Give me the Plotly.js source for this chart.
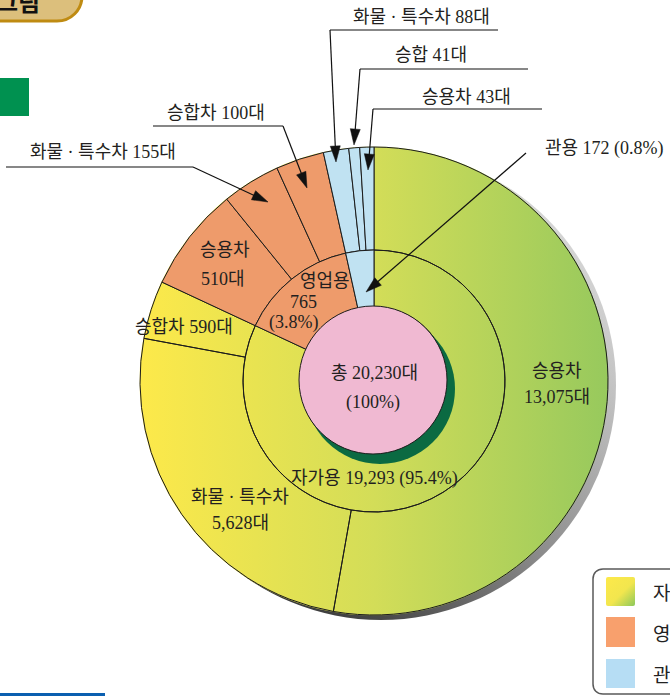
<!DOCTYPE html>
<html><head><meta charset="utf-8">
<script src="https://cdn.plot.ly/plotly-3.0.1.min.js"></script>
<style>html,body{margin:0;padding:0;background:#fff}#chart{width:670px;height:696px}</style>
</head><body><div id="chart"></div>
<script>
// ---------------- data ----------------
const rootLabel = '총';
const totalVehicles = 20230;
const rootPercent = '100%';
const useLabels = ['자가용', '영업용', '관용'];
const useValues = [19293, 765, 172];
const usePercents = ['95.4%', '3.8%', '0.8%'];
const typeParents = ['자가용', '자가용', '자가용', '영업용', '영업용', '영업용', '관용', '관용', '관용'];
const typeLabels = ['승용차', '화물 · 특수차', '승합차', '승용차', '화물 · 특수차', '승합차', '화물 · 특수차', '승합', '승용차'];
const typeValues = [13075, 5628, 590, 510, 155, 100, 88, 41, 43];
// the reference draws its slices schematically (not to scale); angular widths, in degrees
const useDrawnDeg = [295, 52.5, 12.5];
const typeDrawnDeg = [190, 90.5, 14.5, 26, 14.5, 12, 6.3, 2.7, 3.5];
const legendLabels = ['자가용', '영업용', '관용'];

// ---------------- helpers ----------------
const W = 670, H = 696;
const X = x => x / W, Y = y => 1 - y / H;
const P = (x, y) => `${X(x)},${Y(y)}`;
const fmt = v => v.toLocaleString('en-US');
function dom(cx, cy, r) { return { x: [X(cx - r), X(cx + r)], y: [Y(cy + r), Y(cy - r)] }; }
const C = { x: 374, y: 381 };
const R_OUT = 234, R_MID = 131, R_IN = 74;
const parentColor = { '자가용': 'rgba(0,0,0,0)', '영업용': '#ee9b6b', '관용': '#c0e2f2' };
const LINE = '#1c1c1c';
const svgURI = s => 'data:image/svg+xml;charset=utf-8,' + encodeURIComponent(s);

// ---------------- traces ----------------
const traces = [
  { type: 'pie', values: typeDrawnDeg,
    labels: typeLabels.map((l, i) => typeParents[i] + ' ' + l + ' ' + fmt(typeValues[i])),
    sort: false, direction: 'clockwise', rotation: 0, hole: R_MID / R_OUT,
    domain: dom(C.x, C.y, R_OUT), textinfo: 'none', hoverinfo: 'label',
    marker: { colors: typeParents.map(p => parentColor[p]), line: { color: LINE, width: 1 } } },
  { type: 'pie', values: useDrawnDeg,
    labels: useLabels.map((l, i) => l + ' ' + fmt(useValues[i])),
    sort: false, direction: 'clockwise', rotation: 0, hole: R_IN / R_MID,
    domain: dom(C.x, C.y, R_MID), textinfo: 'none', hoverinfo: 'label',
    marker: { colors: useLabels.map(p => parentColor[p]), line: { color: LINE, width: 1 } } },
  { type: 'pie', values: [totalVehicles], labels: ['shadow'], sort: false,
    domain: dom(373 + 7, 380 + 9, R_IN + 1), textinfo: 'none', hoverinfo: 'skip',
    marker: { colors: ['#0b6a42'], line: { width: 0 } } },
  { type: 'pie', values: [totalVehicles], labels: [rootLabel + ' ' + fmt(totalVehicles)], sort: false,
    domain: dom(373, 380, R_IN), textinfo: 'none', hoverinfo: 'label',
    marker: { colors: ['#f0b9d2'], line: { color: LINE, width: 1 } } }
];

// ---------------- decoration images ----------------
const gradCircle = `<svg xmlns="http://www.w3.org/2000/svg" width="100" height="100" viewBox="0 0 100 100"><defs><linearGradient id="g" x1="0" y1="0" x2="1" y2="0"><stop offset="0" stop-color="#fde94a"/><stop offset="0.5" stop-color="#d3dd58"/><stop offset="1" stop-color="#97c95d"/></linearGradient></defs><circle cx="50" cy="50" r="50" fill="url(#g)"/></svg>`;
const shadowCircle = `<svg xmlns="http://www.w3.org/2000/svg" width="100" height="100" viewBox="0 0 100 100"><defs><linearGradient id="s" x1="1" y1="0" x2="0" y2="1"><stop offset="0" stop-color="#ececec"/><stop offset="0.25" stop-color="#c4c4c4"/><stop offset="0.5" stop-color="#8e8e8e"/><stop offset="0.75" stop-color="#484848"/><stop offset="1" stop-color="#1e1e1e"/></linearGradient></defs><circle cx="50" cy="50" r="50" fill="url(#s)"/></svg>`;
const gradSwatch = `<svg xmlns="http://www.w3.org/2000/svg" width="30" height="30" viewBox="0 0 30 30"><defs><linearGradient id="w" x1="0" y1="0" x2="1" y2="1"><stop offset="0" stop-color="#fde94a"/><stop offset="0.55" stop-color="#f2e64e"/><stop offset="1" stop-color="#8cc85c"/></linearGradient></defs><rect x="0" y="0" width="30" height="30" rx="2" fill="url(#w)"/></svg>`;
function img(src, x0, y0, w, h, layer) {
  return { source: svgURI(src), xref: 'paper', yref: 'paper', x: X(x0), y: Y(y0),
    sizex: w / W, sizey: h / H, xanchor: 'left', yanchor: 'top', sizing: 'stretch', layer: layer };
}
const images = [
  img(shadowCircle, C.x + 7 - R_OUT - 1, C.y + 4 - R_OUT - 1, 2 * R_OUT + 2, 2 * R_OUT + 2, 'below'),
  img(gradCircle, C.x - R_OUT - 0.5, C.y - R_OUT - 0.5, 2 * R_OUT + 1, 2 * R_OUT + 1, 'below'),
  img(gradSwatch, 606, 577, 29, 29, 'above')
];

// ---------------- shapes ----------------
const shapes = [];
function rect(x0, y0, x1, y1, fill) {
  shapes.push({ type: 'rect', xref: 'paper', yref: 'paper', x0: X(x0), x1: X(x1), y0: Y(y1), y1: Y(y0),
    fillcolor: fill, line: { width: 0 } });
}
function path(d, fill, lc, lw) {
  shapes.push({ type: 'path', xref: 'paper', yref: 'paper', path: d, fillcolor: fill, line: { color: lc, width: lw } });
}
function seg(x0, y0, x1, y1, w) {
  shapes.push({ type: 'line', xref: 'paper', yref: 'paper', x0: X(x0), y0: Y(y0), x1: X(x1), y1: Y(y1),
    line: { color: '#111', width: w || 1.2 } });
}
function arrow(x0, y0, x1, y1) {
  const len = 16, hw = 5;
  const dx = x1 - x0, dy = y1 - y0, d = Math.hypot(dx, dy), ux = dx / d, uy = dy / d;
  const bx = x1 - ux * len, by = y1 - uy * len, px = -uy, py = ux;
  seg(x0, y0, bx + ux * 2, by + uy * 2);
  path(`M${P(x1, y1)} L${P(bx + px * hw, by + py * hw)} L${P(bx - px * hw, by - py * hw)} Z`, '#111', '#111', 0.5);
}
// top-left header tab (cut off)
path(`M${P(-20, -40)} L${P(82, -40)} L${P(82, -4)} C${P(82, 10)} ${P(71, 21)} ${P(57, 21)} L${P(-20, 21)} Z`, '#dcbf7c', '#bf8b12', 3);
rect(0, 78, 29, 116, '#009150');
rect(0, 693, 105, 697, '#0b5fb0');
// legend box
path(`M${P(603, 569)} L${P(740, 569)} L${P(740, 694)} L${P(603, 694)} C${P(597, 694)} ${P(593, 690)} ${P(593, 684)} L${P(593, 579)} C${P(593, 573)} ${P(597, 569)} ${P(603, 569)} Z`, 'rgba(0,0,0,0)', '#5a5a5a', 1.5);
rect(606, 617, 635, 647, '#f8a06d');
rect(606, 659, 635, 688, '#b6ddf4');
// leader lines
seg(6, 167, 193, 167); arrow(193, 167, 268, 202);     // 영업 화물·특수차
seg(153, 126, 283, 126); arrow(283, 126, 307, 188);   // 영업 승합차
seg(330, 30, 498, 30); arrow(330, 30, 336, 162);      // 관용 화물·특수차
seg(360, 69, 528, 69); arrow(360, 69, 354, 145);      // 관용 승합
seg(373, 109, 542, 109); arrow(373, 109, 368, 170);   // 관용 승용차
arrow(526, 153, 366, 292);                            // 관용 total

// ---------------- annotations ----------------
const FONT = { family: "'Liberation Serif', 'Noto Sans CJK KR', serif", size: 18, color: '#231f20' };
const annotations = [];
function txt(t, x, y, opt) {
  annotations.push(Object.assign({ text: t, x: X(x), y: Y(y), xref: 'paper', yref: 'paper', showarrow: false,
    xanchor: 'center', yanchor: 'middle', font: FONT }, opt || {}));
}
// centre
txt(`${rootLabel} ${fmt(totalVehicles)}대`, 374, 373);
txt(`(${rootPercent})`, 373, 402);
// middle ring
txt(`${useLabels[0]} ${fmt(useValues[0])} (${usePercents[0]})`, 374, 478);
txt(useLabels[1], 325, 281);
txt(fmt(useValues[1]), 303, 302);
txt(`(${usePercents[1]})`, 293, 322);
txt(`${useLabels[2]} ${useValues[2]} (${usePercents[2]})`, 604, 148);
// outer ring
txt(typeLabels[0], 557, 371);
txt(`${fmt(typeValues[0])}대`, 557, 397);
txt(typeLabels[1], 240, 497);
txt(`${fmt(typeValues[1])}대`, 240, 523);
txt(`${typeLabels[2]} ${typeValues[2]}대`, 184, 327);
txt(typeLabels[3], 225, 250);
txt(`${typeValues[3]}대`, 223, 279);
txt(`${typeLabels[4]} ${typeValues[4]}대`, 103, 152);
txt(`${typeLabels[5]} ${typeValues[5]}대`, 216, 113);
txt(`${typeLabels[6]} ${typeValues[6]}대`, 421, 17);
txt(`${typeLabels[7]} ${typeValues[7]}대`, 431, 55);
txt(`${typeLabels[8]} ${typeValues[8]}대`, 466, 97);
// legend texts
const LFONT = { family: "'Noto Sans CJK KR', sans-serif", size: 19, color: '#222' };
[591, 632, 673].forEach((y, i) => txt(legendLabels[i], 651, y, { xanchor: 'left', font: LFONT }));
// header tab text (cut off at top)
txt('그림', 18, 0, { font: { family: "'Noto Sans CJK KR', sans-serif", size: 24, color: '#111', weight: 'bold' } });

const layout = {
  width: W, height: H, margin: { l: 0, r: 0, t: 0, b: 0, pad: 0 },
  paper_bgcolor: '#ffffff', plot_bgcolor: 'rgba(0,0,0,0)', showlegend: false,
  images: images, shapes: shapes, annotations: annotations
};
Plotly.newPlot('chart', traces, layout, { displayModeBar: false, staticPlot: true });
</script></body></html>
